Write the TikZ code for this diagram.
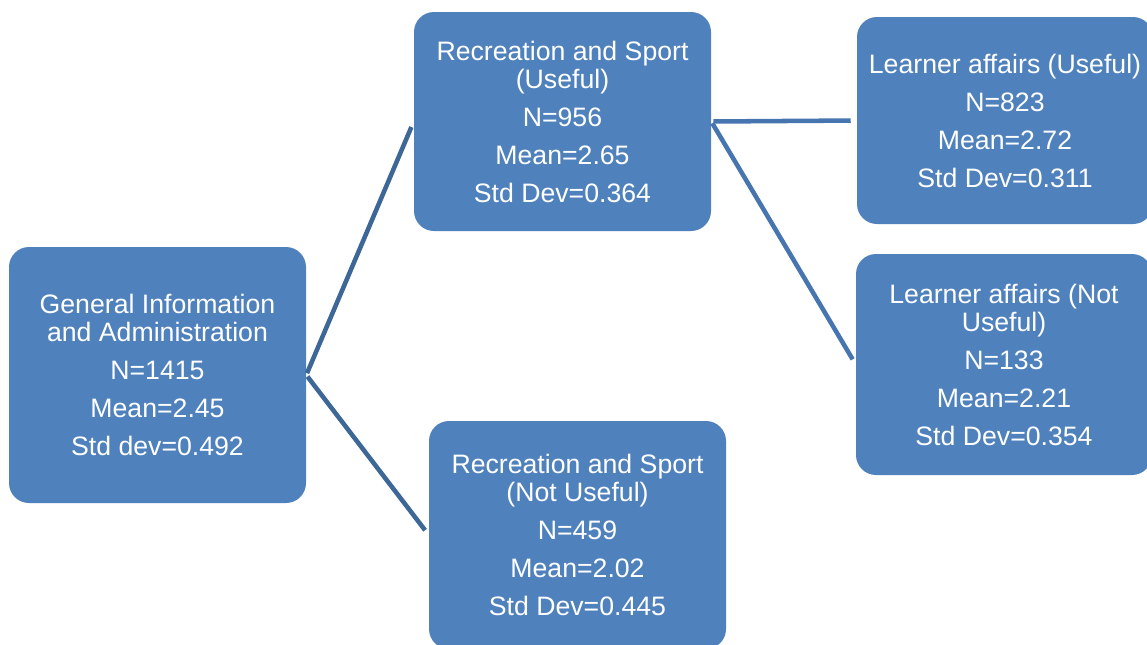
\documentclass[tikz,border=0pt]{standalone}
\usepackage{fontspec}
\setmainfont{Liberation Sans}
\usepackage{tikz}
\usetikzlibrary{positioning,calc}
\definecolor{boxblue}{HTML}{4F81BD}
\definecolor{linkdark}{HTML}{3C6797}
\definecolor{linklight}{HTML}{4675AF}
\newcommand*{\nxt}{\\[7.5pt]}

\begin{document}
\begin{tikzpicture}[x=0.75pt,y=-0.75pt,
  box/.style={fill=boxblue,text=white,rounded corners=15pt,inner sep=0pt,
              align=center,minimum width=222.75pt,
              font=\fontsize{20pt}{21pt}\selectfont},
  link/.style={line width=3.4pt,shorten <=1.5pt,shorten >=4.5pt}]
% Page is the size of the reference, 1147 x 644
\useasboundingbox (0,0) rectangle (1147,644);
% Root box on the left
\node [box,minimum height=192pt] (gen) at (157.5,375)
  {General Information\\and Administration\nxt N=1415\nxt Mean=2.45\nxt Std dev=0.492};
% Middle column: the two Recreation and Sport boxes
\node [box,minimum height=164.25pt] (rsu) at (562.5,121.5)
  {Recreation and Sport\\(Useful)\nxt N=956\nxt Mean=2.65\nxt Std Dev=0.364};
\node [box,minimum height=171pt] (rsn) at (577.5,535)
  {Recreation and Sport\\(Not Useful)\nxt N=459\nxt Mean=2.02\nxt Std Dev=0.445};
% Right column: the two Learner affairs boxes
\node [box,minimum width=222pt,minimum height=155.25pt] (lau) at (1005,120.5)
  {Learner affairs (Useful)\nxt N=823\nxt Mean=2.72\nxt Std Dev=0.311};
\node [box,minimum width=222pt,minimum height=165.75pt] (lan) at (1004,364.5)
  {Learner affairs (Not\\Useful)\nxt N=133\nxt Mean=2.21\nxt Std Dev=0.354};
% Lines from the root to the middle column
\draw [link,linkdark] (gen.east) -- (rsu.west);
\draw [link,linkdark] (gen.east) -- (rsn.west);
% Lines from the useful box to the right column
\draw [link,linklight] (rsu.east) -- (lau.west);
\draw [link,linklight] (rsu.east) -- (lan.west);
\end{tikzpicture}
\end{document}
